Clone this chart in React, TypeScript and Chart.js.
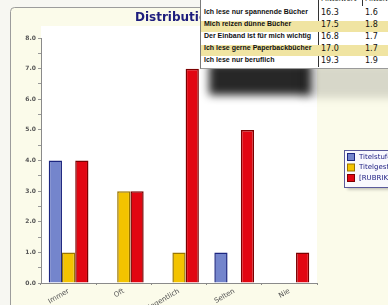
import React, { useEffect, useRef } from "react";
import { Chart, registerables } from "chart.js";

Chart.register(...registerables);

const categories = ["Immer", "Oft", "Gelegentlich", "Selten", "Nie"];
const seriesLabels = ["Titelstufe 1", "Titelgestaltung", "[RUBRIK]"];
const blueValues = [4, 0, 0, 1, 0];
const yellowValues = [1, 3, 1, 0, 0];
const redValues = [4, 3, 7, 5, 1];
const yMin = 0;
const yMax = 8;
const yStep = 0.5;

const chartTitle = "Distribution";
const tableHeaders = ["Mittelwert", "Mittelwert"];
const statements = [
  "Ich lese nur spannende Bücher",
  "Mich reizen dünne Bücher",
  "Der Einband ist für mich wichtig",
  "Ich lese gerne Paperbackbücher",
  "Ich lese nur beruflich",
];
const meanValues = ["16.3", "17.5", "16.8", "17.0", "19.3"];
const sdValues = ["1.6", "1.8", "1.7", "1.7", "1.9"];

const seriesFill = ["#7485cc", "#f3c300", "#e20612"];
const seriesBorder = ["#1c2680", "#9a7600", "#7c0000"];

const framePlugin = {
  id: "framePlugin",
  beforeDraw(chart: any) {
    const { ctx, chartArea: a } = chart;
    ctx.save();
    ctx.fillStyle = "#f7f7f2";
    ctx.fillRect(0, 0, chart.width, chart.height);
    ctx.beginPath();
    ctx.roundRect(10.5, 7.5, 520, 420, 4);
    ctx.fillStyle = "#fbfbea";
    ctx.fill();
    ctx.strokeStyle = "#9c9c9c";
    ctx.lineWidth = 1;
    ctx.stroke();
    ctx.fillStyle = "#ffffff";
    ctx.fillRect(a.left, a.top - 12, a.right - a.left, a.bottom - a.top + 12);
    ctx.font = 'bold 12px "DejaVu Sans"';
    ctx.fillStyle = "#1d1d7d";
    ctx.textBaseline = "middle";
    ctx.textAlign = "left";
    ctx.fillText(chartTitle, 135, 18);
    ctx.restore();
  },
  afterDraw(chart: any) {
    const { ctx } = chart;
    ctx.save();
    const bx = 344.5,
      by = 150.5,
      bw = 90,
      bh = 37;
    ctx.shadowColor = "rgba(0,0,0,0.25)";
    ctx.shadowOffsetX = 2;
    ctx.shadowOffsetY = 2;
    ctx.shadowBlur = 3;
    ctx.fillStyle = "#f9f9fd";
    ctx.fillRect(bx, by, bw, bh);
    ctx.shadowColor = "transparent";
    ctx.strokeStyle = "#5a5a9a";
    ctx.strokeRect(bx, by, bw, bh);
    chart.data.datasets.forEach((ds: any, i: number) => {
      const y = 157 + i * 10.5;
      ctx.fillStyle = seriesFill[i];
      ctx.fillRect(347.5, y - 3.5, 7, 7);
      ctx.strokeStyle = seriesBorder[i];
      ctx.strokeRect(347.5, y - 3.5, 7, 7);
      ctx.fillStyle = "#1a1a80";
      ctx.font = '7px "DejaVu Sans"';
      ctx.textBaseline = "middle";
      ctx.fillText(ds.label, 359, y);
    });
    ctx.restore();
  },
};

function ChartCanvas() {
  const ref = useRef<HTMLCanvasElement>(null);
  useEffect(() => {
    const values = [blueValues, yellowValues, redValues];
    const chart = new Chart(ref.current as HTMLCanvasElement, {
      type: "bar",
      data: {
        labels: categories,
        datasets: values.map((v, i) => ({
          label: seriesLabels[i],
          data: v.map((x) => (x === 0 ? null : x)),
          backgroundColor: seriesFill[i],
          borderColor: seriesBorder[i],
          borderWidth: 1.5,
          borderSkipped: "bottom",
          categoryPercentage: 0.72,
          barPercentage: 1,
        })),
      },
      options: {
        animation: false,
        responsive: false,
        layout: { padding: { left: 0, top: 38, right: 71, bottom: 0 } },
        plugins: {
          legend: { display: false },
          title: { display: false },
          tooltip: { enabled: false },
        },
        scales: {
          x: {
            afterFit: (s: any) => {
              s.height = 22;
            },
            grid: {
              drawOnChartArea: false,
              tickLength: 2,
              color: "#888",
            },
            border: { color: "#8a8a8a" },
            ticks: {
              maxRotation: 30,
              minRotation: 30,
              padding: 2,
              color: "#555",
              font: { family: "DejaVu Sans", size: 7 },
            },
          },
          y: {
            min: yMin,
            max: yMax,
            afterFit: (s: any) => {
              s.width = 41;
            },
            grid: {
              drawOnChartArea: false,
              tickLength: 3,
              color: "#999",
            },
            border: { color: "#8a8a8a" },
            ticks: {
              stepSize: yStep,
              autoSkip: false,
              padding: 2,
              color: "#555",
              font: { family: "DejaVu Sans", size: 6, weight: "bold" },
              callback: (v: any) => (Number(v) % 1 === 0 ? Number(v).toFixed(1) : ""),
            },
          },
        },
      },
      plugins: [framePlugin],
    });
    return () => chart.destroy();
  }, []);
  return <canvas ref={ref} width={388} height={305} style={{ position: "absolute", left: 0, top: 0 }} />;
}

function StatsPopup() {
  const rowH = 12;
  const top0 = 7.5;
  return (
    <>
      <div
        style={{
          position: "absolute",
          left: 209,
          top: 63,
          width: 102,
          height: 32,
          background: "rgba(15,15,15,0.9)",
          filter: "blur(4px)",
        }}
      />
      <div
        style={{
          position: "absolute",
          left: 300,
          top: 64,
          width: 100,
          height: 34,
          background: "rgba(0,0,0,0.14)",
          filter: "blur(4px)",
        }}
      />
      <div
        style={{
          position: "absolute",
          left: 200,
          top: -2,
          width: 200,
          height: 70,
          background: "#ffffff",
          borderLeft: "1px solid #7a7a7a",
          borderBottom: "1px solid #9a9a9a",
        }}
      />
      <div
        style={{
          position: "absolute",
          left: 318,
          top: 0,
          width: 1,
          height: 67,
          background: "#333",
        }}
      />
      <div
        style={{
          position: "absolute",
          left: 362,
          top: 0,
          width: 1,
          height: 6,
          background: "#333",
        }}
      />
      {tableHeaders.map((h, i) => (
        <div
          key={"h" + i}
          style={{
            position: "absolute",
            left: i === 0 ? 321 : 365,
            top: -6,
            font: '7px "DejaVu Sans"',
            color: "#111",
            whiteSpace: "nowrap",
            lineHeight: "10px",
          }}
        >
          {h}
        </div>
      ))}
      {statements.map((s, i) => (
        <React.Fragment key={i}>
          {i % 2 === 1 && (
            <div
              style={{
                position: "absolute",
                left: 201,
                top: top0 + i * rowH + 1,
                width: 190,
                height: rowH - 1,
                background: "#f0e4a2",
              }}
            />
          )}
          <div
            style={{
              position: "absolute",
              left: 204,
              top: top0 + i * rowH,
              height: rowH,
              lineHeight: rowH + "px",
              font: 'bold 7px "Liberation Sans"',
              color: "#111",
              whiteSpace: "nowrap",
            }}
          >
            {s}
          </div>
          <div
            style={{
              position: "absolute",
              left: 321,
              top: top0 + i * rowH,
              height: rowH,
              lineHeight: rowH + "px",
              font: '8px "DejaVu Sans"',
              color: "#111",
              whiteSpace: "nowrap",
            }}
          >
            {meanValues[i]}
          </div>
          <div
            style={{
              position: "absolute",
              left: 365,
              top: top0 + i * rowH,
              height: rowH,
              lineHeight: rowH + "px",
              font: '8px "DejaVu Sans"',
              color: "#111",
              whiteSpace: "nowrap",
            }}
          >
            {sdValues[i]}
          </div>
        </React.Fragment>
      ))}
    </>
  );
}

export default function App() {
  return (
    <div
      style={{
        position: "fixed",
        left: 0,
        top: 0,
        width: 388,
        height: 305,
        overflow: "hidden",
        background: "#f7f7f2",
      }}
    >
      <ChartCanvas />
      <StatsPopup />
    </div>
  );
}
